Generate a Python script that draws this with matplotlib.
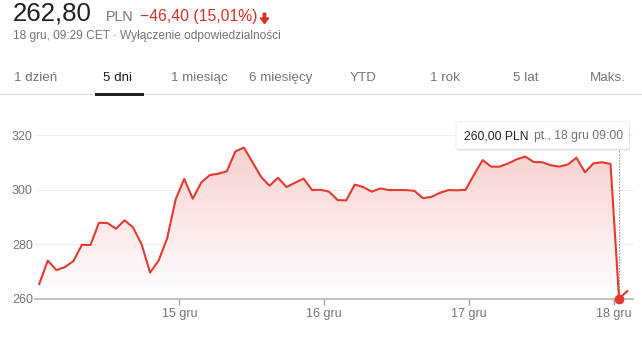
import numpy as np
import matplotlib
matplotlib.use("Agg")
import matplotlib.pyplot as plt
from matplotlib.patches import Rectangle, FancyBboxPatch, FancyArrow, Polygon
from matplotlib.colors import LinearSegmentedColormap
from matplotlib.transforms import IdentityTransform

# ---------------- data ----------------
prices = [265.4, 274.0, 270.5, 271.6, 273.8, 279.8, 279.7, 287.9, 287.8, 285.7,
          288.8, 286.2, 280.0, 269.6, 274.0, 282.2, 296.5, 304.0, 296.7, 302.7,
          305.4, 305.9, 306.8, 314.1, 315.5, 310.2, 304.8, 301.5, 304.4, 301.0,
          302.6, 304.1, 299.9, 300.0, 299.3, 296.2, 296.1, 301.9, 301.0, 299.3,
          300.5, 299.9, 299.9, 299.9, 299.6, 296.9, 297.4, 298.9, 299.9, 299.8,
          300.0, 305.6, 310.9, 308.5, 308.5, 309.7, 311.2, 312.2, 310.2, 310.1,
          309.0, 308.5, 309.3, 311.8, 306.4, 309.7, 310.1, 309.5, 260.0]
last_price = 262.80
last_minutes = 29           # minutes after the last half-hour sample
slots_per_day = 17
day_labels = ["15 gru", "16 gru", "17 gru", "18 gru"]
y_ticks = [260, 280, 300, 320]
tabs = ["1 dzień", "5 dni", "1 miesiąc", "6 miesięcy", "YTD", "1 rok", "5 lat", "Maks."]
active_tab = "5 dni"
hover_index = 68

# ---------------- style ----------------
W, H = 642, 337
plt.rcParams['font.family'] = ['Liberation Sans', 'DejaVu Sans']
RED = '#e53a2f'
TXT = '#202124'
GRAY = '#70757a'

fig = plt.figure(figsize=(W / 100, H / 100), dpi=100)
fig.patch.set_facecolor('white')

def fx(x):
    return x / W

def fy(y):
    return 1 - y / H

# ---------------- header ----------------
fig.text(fx(13), fy(21), "262,80", fontsize=18.6, color=TXT, va='baseline', ha='left')
fig.text(fx(106), fy(21), "PLN", fontsize=10.3, color=GRAY, va='baseline', ha='left')
fig.text(fx(139.5), fy(21), "−46,40 (15,01%)", fontsize=11.3, color='#d93025', va='baseline', ha='left')
fig.patches.append(FancyArrow(264.5, H - 13.3, 0, -10.2, width=2.4, head_width=8.5,
                              head_length=5.5, length_includes_head=True,
                              color='#d93025', transform=IdentityTransform()))
fig.text(fx(13), fy(39.5), "18 gru, 09:29 CET · Wyłączenie odpowiedzialności",
         fontsize=8.55, color=GRAY, va='baseline', ha='left')

# ---------------- tabs ----------------
for k, t in enumerate(tabs):
    cx = 36 + 81.7 * k
    fig.text(fx(cx), fy(81), t, fontsize=9.6, color=TXT if t == active_tab else GRAY,
             va='baseline', ha='center')
fig.patches.append(Rectangle((0, fy(94.5)), 1, 1 / H, transform=fig.transFigure,
                             color='#dadce0', lw=0))
fig.patches.append(Rectangle((fx(95), fy(96)), fx(49), 3 / H, transform=fig.transFigure,
                             color=TXT, lw=0, zorder=3))

# ---------------- chart ----------------
left_px, right_px = 35, 632.7
bottom_px, top_px = 298.7, 121.7
ax = fig.add_axes([fx(left_px), fy(bottom_px), (right_px - left_px) / W, (bottom_px - top_px) / H])
ax.set_xlim(-0.5, 69.6)
ax.set_ylim(260, 325)

x = np.arange(len(prices), dtype=float)
x_all = np.append(x, x[-1] + last_minutes / 30)
y_all = np.append(prices, last_price)

# gridlines
for v in y_ticks[1:]:
    ax.axhline(v, color='#eeeeee', lw=0.8, zorder=0)

# gradient fill under the line
poly = Polygon(np.column_stack([np.concatenate([[x_all[0]], x_all, [x_all[-1]]]),
                                np.concatenate([[260], y_all, [260]])]),
               closed=True, facecolor='none', edgecolor='none')
ax.add_patch(poly)
cmap = LinearSegmentedColormap.from_list('g', ['#ffffff', '#f5cdca'])
grad = np.linspace(0, 1, 256).reshape(-1, 1)
im = ax.imshow(grad, extent=[-0.5, 69.6, 260, 320], origin='lower', aspect='auto',
               cmap=cmap, zorder=1)
im.set_clip_path(poly)

ax.plot(x_all, y_all, color=RED, lw=1.5, zorder=3, clip_on=False, solid_joinstyle='round')

# hover marker + dotted line
ax.plot([x[hover_index], x[hover_index]], [prices[hover_index], 315.0], color='#80868b',
        lw=0.8, ls=(0, (1.2, 1.5)), zorder=2, clip_on=False)
ax.plot(x[hover_index], prices[hover_index], 'o', color=RED, ms=6, zorder=4, clip_on=False)

# axes styling
for s in ['top', 'right', 'left']:
    ax.spines[s].set_visible(False)
ax.spines['bottom'].set_color('#bdc1c6')
ax.spines['bottom'].set_linewidth(1.5)
ax.set_yticks(y_ticks)
ax.set_yticklabels([str(v) for v in y_ticks])
ax.tick_params(axis='y', length=0, pad=1.5, labelsize=9, labelcolor=GRAY)
tick_pos = [slots_per_day * (k + 1) - 0.58 for k in range(len(day_labels))]
ax.set_xticks(tick_pos)
ax.set_xticklabels(day_labels)
ax.tick_params(axis='x', length=4.3, width=1, color='#9aa0a6', pad=2.5, labelsize=9,
               labelcolor=GRAY)
ax.set_facecolor('none')

# ---------------- tooltip ----------------
bx0, by0, bx1, by1 = 456, 121.7, 629.3, 149
shadow = FancyBboxPatch((fx(bx0 + 0.5), fy(by1 + 1.5)), fx(bx1 - bx0), (by1 - by0) / H,
                        boxstyle='round,pad=0,rounding_size=0.003', transform=fig.transFigure,
                        facecolor='#000000', alpha=0.12, lw=0, zorder=9)
box = FancyBboxPatch((fx(bx0), fy(by1)), fx(bx1 - bx0), (by1 - by0) / H,
                     boxstyle='round,pad=0,rounding_size=0.003', transform=fig.transFigure,
                     facecolor='white', edgecolor='#e8e8e8', lw=0.5, zorder=10)
fig.patches.append(shadow)
fig.patches.append(box)
fig.text(fx(464.3), fy(139.5), "260,00 PLN", fontsize=8.7, color=TXT, va='baseline',
         ha='left', zorder=11)
fig.text(fx(534.3), fy(139.5), "pt., 18 gru 09:00", fontsize=8.7, color=GRAY, va='baseline',
         ha='left', zorder=11)

fig.savefig('out.png', dpi=100, facecolor='white')
